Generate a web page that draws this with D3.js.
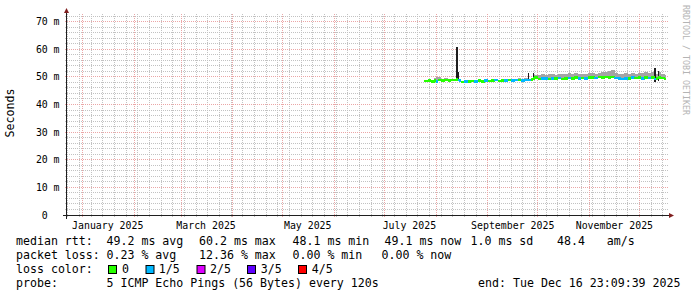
<!DOCTYPE html>
<html lang="en">
<head>
<meta charset="UTF-8" />
<title>smokeping</title>
<script src="https://cdn.jsdelivr.net/npm/d3@7"></script>
<style>
  body { margin: 0; background: #fff; }
  text { font-family: "DejaVu Sans Mono", monospace; }
</style>
</head>
<body>
<script>
// ---- data ----
var endTime = new Date(Date.UTC(2025, 11, 16, 23, 9, 39));
var spanDays = 360;

var sampleDays = ["2025-07-25","2025-07-27","2025-07-29","2025-07-31","2025-08-01","2025-08-02","2025-08-04","2025-08-06","2025-08-08","2025-08-10",
  "2025-08-12","2025-08-13","2025-08-14","2025-08-15","2025-08-16","2025-08-18","2025-08-20","2025-08-22","2025-08-24","2025-08-26",
  "2025-08-28","2025-08-30","2025-09-01","2025-09-03","2025-09-05","2025-09-07","2025-09-09","2025-09-11","2025-09-13","2025-09-15",
  "2025-09-17","2025-09-19","2025-09-21","2025-09-23","2025-09-25","2025-09-27","2025-09-28","2025-09-29","2025-10-01","2025-10-03",
  "2025-10-05","2025-10-07","2025-10-09","2025-10-11","2025-10-13","2025-10-15","2025-10-17","2025-10-19","2025-10-21","2025-10-23",
  "2025-10-25","2025-10-27","2025-10-29","2025-10-31","2025-11-02","2025-11-04","2025-11-06","2025-11-08","2025-11-10","2025-11-12",
  "2025-11-14","2025-11-16","2025-11-18","2025-11-20","2025-11-22","2025-11-24","2025-11-26","2025-11-28","2025-11-30","2025-12-02",
  "2025-12-04","2025-12-06","2025-12-08","2025-12-10","2025-12-11","2025-12-12","2025-12-14","2025-12-16"];
var medianMs = [48.5,48.6,48.4,48.7,48.3,48.8,48.7,48.9,48.6,48.8,
  48.9,49.0,48.9,48.6,48.2,48.4,48.3,48.5,48.3,48.6,
  48.4,48.7,48.5,48.6,48.8,48.5,48.7,48.6,48.8,48.7,
  48.8,48.9,48.7,48.9,48.8,49.0,49.4,49.7,49.3,49.5,
  49.4,49.2,49.5,49.4,49.6,49.3,49.5,49.6,49.4,49.7,
  49.5,49.6,49.4,49.7,49.8,49.6,49.9,49.7,50.0,49.8,
  49.9,49.6,49.4,49.3,49.5,49.4,49.7,49.6,49.8,49.5,
  49.7,49.6,49.8,49.2,49.5,49.8,49.6,49.2];
var smokeHiMs = [48.9,49.2,48.8,49.6,50.1,49.8,49.3,49.5,49.1,49.4,
  49.3,49.4,49.3,49.0,48.6,48.8,48.7,48.9,48.8,49.0,
  48.9,49.1,49.0,49.0,49.2,49.0,49.1,49.1,49.3,49.2,
  49.3,49.5,49.3,49.6,49.4,49.7,50.4,50.6,50.7,51.0,
  50.8,50.9,51.1,50.8,51.2,50.9,51.0,51.3,51.1,51.4,
  51.0,51.2,50.9,51.3,51.5,51.1,51.4,51.6,51.8,52.3,
  52.5,51.4,51.0,51.2,51.3,51.1,51.4,51.2,51.5,51.3,
  51.6,51.4,51.7,51.0,51.2,51.6,51.2,50.8];
var lossIdx = [0,0,0,0,1,0,0,0,0,0,
  0,0,1,1,0,1,0,0,1,0,
  0,1,0,0,1,0,0,1,0,1,
  1,0,1,1,1,0,0,0,0,1,
  1,0,1,0,1,0,0,1,0,0,
  1,0,1,0,0,1,0,0,0,0,
  0,1,1,1,1,0,1,0,0,1,
  0,1,0,1,0,0,0,0];

var spikeDays = ["2025-08-13","2025-08-14","2025-09-25","2025-09-28","2025-12-10","2025-12-12"];
var spikeLoMs = [49.0,49.0,49.0,49.2,48.3,48.5];
var spikeHiMs = [60.9,51.9,51.3,51.4,53.1,52.2];

var lossLabels = ["0","1/5","2/5","3/5","4/5"];
var lossColors = ["#26ff00","#00b8ff","#dd00ff","#5e00ff","#ff0000"];

var yTicks = [0,10,20,30,40,50,60,70];
var labelMonths = ["2025-01-16","2025-03-16","2025-05-16","2025-07-16","2025-09-16","2025-11-16"];
var monthLabels = ["January 2025","March 2025","May 2025","July 2025","September 2025","November 2025"];

var legendRtt = [[16,"median rtt:"],[106.5,"49.2 ms avg"],[199,"60.2 ms max"],[292.5,"48.1 ms min"],[384.5,"49.1 ms now"],[470.5,"1.0 ms sd"],[557,"48.4"],[606.8,"am/s"]];
var legendLoss = [[16,"packet loss:"],[106.5,"0.23 % avg"],[199,"12.36 % max"],[292.5,"0.00 % min"],[381.5,"0.00 % now"]];

// ---- scales ----
var parse = d3.utcParse("%Y-%m-%d");
var startTime = new Date(endTime.getTime() - spanDays * 864e5);
var x = d3.scaleUtc().domain([startTime, endTime]).range([66, 666]);
var y = d3.scaleLinear().domain([0, 72.4]).range([215, 15]);

var svg = d3.select("body").append("svg")
  .attr("width", 697)
  .attr("height", 297)
  .style("display", "block");

svg.append("rect").attr("width", 697).attr("height", 297).attr("fill", "#fff");

var px = function (v) { return Math.floor(v) + 0.5; };

// ---- grid ----
var grid = svg.append("g").attr("shape-rendering", "crispEdges");

var minorY = d3.range(0, 73, 2).filter(function (v) { return v % 10 != 0; });
grid.selectAll(".hminor").data(minorY).enter().append("line")
  .attr("x1", 65).attr("x2", 668)
  .attr("y1", function (d) { return px(y(d)); })
  .attr("y2", function (d) { return px(y(d)); })
  .attr("stroke", "#c2c2c2")
  .attr("stroke-dasharray", "1,1");

var minorX = d3.utcMonday.range(startTime, endTime);
grid.selectAll(".vminor").data(minorX).enter().append("line")
  .attr("x1", function (d) { return px(x(d)); })
  .attr("x2", function (d) { return px(x(d)); })
  .attr("y1", 14).attr("y2", 217)
  .attr("stroke", "#c2c2c2")
  .attr("stroke-dasharray", "1,1");

grid.selectAll(".hmajor").data(yTicks.slice(1)).enter().append("line")
  .attr("x1", 65).attr("x2", 668)
  .attr("y1", function (d) { return px(y(d)); })
  .attr("y2", function (d) { return px(y(d)); })
  .attr("stroke", "#eba6a6")
  .attr("stroke-dasharray", "1,1");

var majorX = d3.utcMonth.range(startTime, endTime);
grid.selectAll(".vmajor").data(majorX).enter().append("line")
  .attr("x1", function (d) { return px(x(d)); })
  .attr("x2", function (d) { return px(x(d)); })
  .attr("y1", 14).attr("y2", 217)
  .attr("stroke", "#eba6a6")
  .attr("stroke-dasharray", "1,1");

// ---- smoke + median ----
var samples = sampleDays.map(function (d, i) {
  var t0 = parse(d);
  var t1 = i < sampleDays.length - 1 ? parse(sampleDays[i + 1]) : endTime;
  return { t0: t0, t1: t1, med: medianMs[i], hi: smokeHiMs[i], loss: lossIdx[i] };
});

var data = svg.append("g").attr("shape-rendering", "crispEdges");

data.selectAll(".smoke").data(samples).enter().append("rect")
  .attr("x", function (d) { return x(d.t0); })
  .attr("width", function (d) { return x(d.t1) - x(d.t0) + 0.3; })
  .attr("y", function (d) { return y(d.hi); })
  .attr("height", function (d) { return Math.max(0, y(d.med) - y(d.hi)); })
  .attr("fill", "#a4a4a4");

data.selectAll(".spike").data(spikeDays).enter().append("rect")
  .attr("x", function (d) { return x(parse(d)); })
  .attr("width", 1.6)
  .attr("y", function (d, i) { return y(spikeHiMs[i]); })
  .attr("height", function (d, i) { return y(spikeLoMs[i]) - y(spikeHiMs[i]); })
  .attr("fill", "#1e1e1e");

data.selectAll(".median").data(samples).enter().append("rect")
  .attr("x", function (d) { return x(d.t0); })
  .attr("width", function (d) { return x(d.t1) - x(d.t0) + 0.3; })
  .attr("y", function (d) { return y(d.med) - 1.3; })
  .attr("height", 2.6)
  .attr("fill", function (d) { return lossColors[d.loss]; });

// ---- axes ----
svg.append("line")
  .attr("x1", 63).attr("x2", 670).attr("y1", 215.5).attr("y2", 215.5)
  .attr("stroke", "#1f1f1f");
svg.append("line")
  .attr("x1", 66.5).attr("x2", 66.5).attr("y1", 219).attr("y2", 12)
  .attr("stroke", "#1f1f1f");
svg.append("path")
  .attr("d", "M669,213 L674,215.5 L669,218 Z")
  .attr("fill", "#801f1f");
svg.append("path")
  .attr("d", "M64,13 L66.5,8 L69,13 Z")
  .attr("fill", "#801f1f");

// y labels
svg.selectAll(".ynum").data(yTicks).enter().append("text")
  .attr("x", 47.8)
  .attr("y", function (d) { return y(d) + 3.6; })
  .attr("text-anchor", "end")
  .attr("font-size", "9.9px")
  .attr("fill", "#000")
  .text(function (d) { return d; });
svg.selectAll(".yunit").data(yTicks.slice(1)).enter().append("text")
  .attr("x", 53.6)
  .attr("y", function (d) { return y(d) + 3.6; })
  .attr("font-size", "9.9px")
  .attr("fill", "#000")
  .text("m");

// x labels
svg.selectAll(".xlab").data(labelMonths).enter().append("text")
  .attr("x", function (d) { return x(parse(d)); })
  .attr("y", 228.5)
  .attr("text-anchor", "middle")
  .attr("font-size", "9.9px")
  .attr("fill", "#000")
  .text(function (d, i) { return monthLabels[i]; });

// vertical title + watermark
svg.append("text")
  .attr("transform", "translate(14.3,113) rotate(-90)")
  .attr("text-anchor", "middle")
  .attr("font-size", "11.6px")
  .attr("fill", "#000")
  .text("Seconds");
svg.append("text")
  .attr("transform", "translate(682.5,5) rotate(90)")
  .attr("font-size", "8.3px")
  .attr("fill", "#b4b4b4")
  .text("RRDTOOL / TOBI OETIKER");

// ---- legend ----
var fs = "11.6px";
svg.selectAll(".lg1").data(legendRtt).enter().append("text")
  .attr("x", function (d) { return d[0]; }).attr("y", 245)
  .attr("font-size", fs).attr("fill", "#000")
  .text(function (d) { return d[1]; });
svg.selectAll(".lg2").data(legendLoss).enter().append("text")
  .attr("x", function (d) { return d[0]; }).attr("y", 259)
  .attr("font-size", fs).attr("fill", "#000")
  .text(function (d) { return d[1]; });

svg.append("text").attr("x", 16).attr("y", 273)
  .attr("font-size", fs).attr("fill", "#000").text("loss color:");
var boxX = [108, 145.5, 196.5, 247, 298];
var labX = [122, 158.7, 210, 260.7, 311.7];
svg.selectAll(".lbox").data(lossLabels).enter().append("rect")
  .attr("x", function (d, i) { return boxX[i] + 0.5; })
  .attr("y", 265.5)
  .attr("width", 8).attr("height", 8)
  .attr("fill", function (d, i) { return lossColors[i]; })
  .attr("stroke", "#000");
svg.selectAll(".llab").data(lossLabels).enter().append("text")
  .attr("x", function (d, i) { return labX[i]; }).attr("y", 273)
  .attr("font-size", fs).attr("fill", "#000")
  .text(function (d) { return d; });

svg.append("text").attr("x", 16).attr("y", 287)
  .attr("font-size", fs).attr("fill", "#000").text("probe:");
svg.append("text").attr("x", 106.5).attr("y", 287)
  .attr("font-size", fs).attr("fill", "#000").text("5 ICMP Echo Pings (56 Bytes) every 120s");
svg.append("text").attr("x", 680.5).attr("y", 287)
  .attr("text-anchor", "end")
  .attr("font-size", fs).attr("fill", "#000").text("end: Tue Dec 16 23:09:39 2025");
</script>
</body>
</html>
